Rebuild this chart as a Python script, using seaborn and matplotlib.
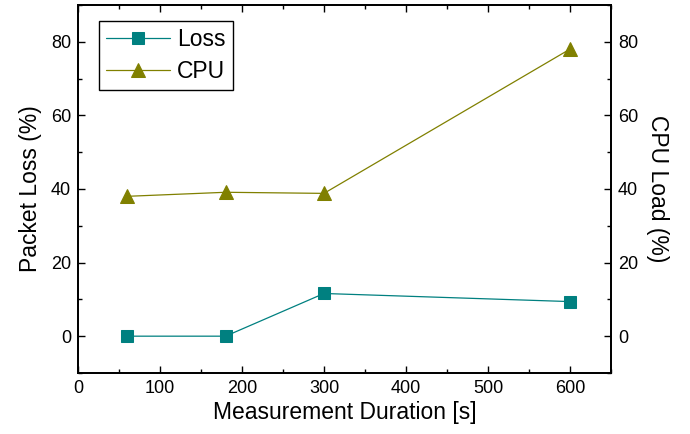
import matplotlib
matplotlib.use("Agg")
import matplotlib.pyplot as plt
from matplotlib.ticker import MultipleLocator
import seaborn as sns
import pandas as pd

# Measurement durations in seconds
durations = [60, 180, 300, 600]
# Packet loss (%) and CPU load (%) per duration
packet_loss = [0.0, 0.0, 11.6, 9.4]
cpu_load = [38.0, 39.1, 38.8, 78.0]

x_ticks = [0, 100, 200, 300, 400, 500, 600]
y_ticks = [0, 20, 40, 60, 80]

loss_color = "#008080"
cpu_color = "#808000"

sns.set_theme(style="white")
plt.rcParams["font.family"] = ["Liberation Sans", "DejaVu Sans"]
plt.rcParams["text.color"] = "black"
plt.rcParams["axes.labelcolor"] = "black"
plt.rcParams["xtick.color"] = "black"
plt.rcParams["ytick.color"] = "black"

df = pd.DataFrame({"duration": durations, "loss": packet_loss, "cpu": cpu_load})

fig = plt.figure(figsize=(6.9, 4.34), dpi=100)
ax = fig.add_axes([0.113, 0.1406, 0.7725, 0.848])
ax2 = ax.twinx()

sns.lineplot(data=df, x="duration", y="loss", ax=ax, color=loss_color,
             marker="s", markersize=8, markeredgecolor=loss_color,
             linewidth=0.9, label="Loss", legend=False)
sns.lineplot(data=df, x="duration", y="cpu", ax=ax2, color=cpu_color,
             marker="^", markersize=10, markeredgecolor=cpu_color,
             linewidth=0.9, label="CPU", legend=False)

for a in (ax, ax2):
    a.set_xlim(0, 650)
    a.set_ylim(-10, 90)
    a.set_yticks(y_ticks)
    a.yaxis.set_minor_locator(MultipleLocator(10))
    for s in a.spines.values():
        s.set_color("black")
        s.set_linewidth(1.3)

ax.set_xticks(x_ticks)
ax.xaxis.set_minor_locator(MultipleLocator(50))
ax.tick_params(axis="both", which="major", direction="in", length=5, width=1,
               color="black", labelcolor="black", labelsize=13, top=True,
               bottom=True, left=True, right=False, pad=5)
ax.tick_params(axis="both", which="minor", direction="in", length=3, width=1,
               color="black", top=True, bottom=True, left=True, right=False)
ax2.tick_params(axis="y", which="major", direction="in", length=5, width=1,
                color="black", labelcolor="black", labelsize=13, right=True,
                left=False, pad=5)
ax2.tick_params(axis="y", which="minor", direction="in", length=3, width=1,
                color="black", right=True, left=False)

ax.set_xlabel("Measurement Duration [s]", fontsize=16.5, labelpad=3,
              color="black")
ax.set_ylabel("Packet Loss (%)", fontsize=16.5, labelpad=6, color="black")
ax2.set_ylabel("CPU Load (%)", fontsize=16.5, rotation=270, labelpad=22,
               color="black")
ax.grid(False)
ax2.grid(False)

h1, l1 = ax.get_legend_handles_labels()
h2, l2 = ax2.get_legend_handles_labels()
leg = ax2.legend(h1 + h2, l1 + l2, loc="upper left",
                 bbox_to_anchor=(0.04, 0.957), borderaxespad=0,
                 fontsize=16.5, frameon=True, fancybox=False, framealpha=1,
                 edgecolor="black", handlelength=2.8, handletextpad=0.3,
                 borderpad=0.3, labelspacing=0.42)
leg.get_frame().set_linewidth(1.0)
for t in leg.get_texts():
    t.set_color("black")
for h in leg.legend_handles:
    h.set_alpha(None)

fig.savefig("out.png", dpi=100)
